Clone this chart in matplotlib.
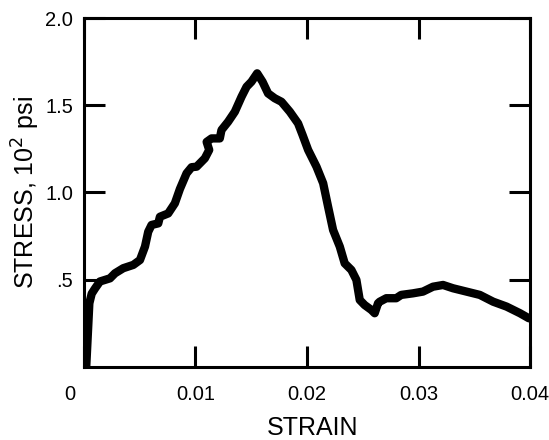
import matplotlib.pyplot as plt
from matplotlib.transforms import ScaledTranslation

plt.rcParams['font.family'] = ['Liberation Sans', 'DejaVu Sans']

# stress-strain curve
strain = [0.0002, 0.00048, 0.00069, 0.00099, 0.00143, 0.00233, 0.00278, 0.00352,
          0.00442, 0.00502, 0.00547, 0.00576, 0.00606, 0.00666, 0.00681, 0.00755,
          0.00815, 0.0086, 0.0092, 0.00965, 0.0101, 0.01084, 0.01123, 0.0110,
          0.01144, 0.01218, 0.01233, 0.01293, 0.01353, 0.01413, 0.01458, 0.01502,
          0.01553, 0.01601, 0.01651, 0.01711, 0.01771, 0.01846, 0.0192, 0.0196,
          0.0201, 0.02085, 0.02145, 0.02189, 0.02234, 0.02294, 0.02338, 0.02398,
          0.02443, 0.02473, 0.02517, 0.02577, 0.02607, 0.02637, 0.02652, 0.02711,
          0.028, 0.02845, 0.0295, 0.0304, 0.0313, 0.0322, 0.0331, 0.0343,
          0.0355, 0.0367, 0.0379, 0.0391, 0.0399]
stress = [0.0, 0.365, 0.42, 0.45, 0.49, 0.508, 0.537, 0.566,
          0.585, 0.613, 0.69, 0.775, 0.814, 0.823, 0.861, 0.88,
          0.938, 1.02, 1.11, 1.145, 1.148, 1.196, 1.244, 1.29,
          1.31, 1.31, 1.358, 1.406, 1.463, 1.549, 1.606, 1.635,
          1.683, 1.635, 1.568, 1.54, 1.52, 1.463, 1.396, 1.33,
          1.244, 1.148, 1.053, 0.919, 0.785, 0.69, 0.594, 0.556,
          0.499, 0.384, 0.355, 0.327, 0.308, 0.365, 0.374, 0.394,
          0.394, 0.413, 0.422, 0.432, 0.46, 0.47, 0.451, 0.432,
          0.413, 0.374, 0.346, 0.308, 0.279]

# faint dotted guide at .5 near the origin
guide_x = [0.0, 0.0016]
guide_y = [0.5, 0.5]

xticks = [0, 0.01, 0.02, 0.03, 0.04]
xlabels = ['0', '0.01', '0.02', '0.03', '0.04']
yticks = [0.5, 1.0, 1.5, 2.0]
ylabels = ['.5', '1.0', '1.5', '2.0']

fig = plt.figure(figsize=(5.49, 4.40), dpi=100)
ax = fig.add_axes([0.153, 0.166, 0.8124, 0.793])

ax.plot(guide_x, guide_y, color='black', lw=0.8, ls=':')
ax.plot(strain, stress, color='black', lw=6,
        solid_capstyle='round', solid_joinstyle='round')

ax.set_xlim(0, 0.04)
ax.set_ylim(0, 2.0)
ax.set_xticks(xticks)
ax.set_xticklabels(xlabels)
ax.set_yticks(yticks)
ax.set_yticklabels(ylabels)

for s in ax.spines.values():
    s.set_linewidth(2.2)
ax.tick_params(direction='in', length=15, width=2.2, top=True, right=True,
               labelsize=14.5)
ax.tick_params(axis='x', pad=13)
ax.tick_params(axis='y', pad=8)

# shift the "0" label left like the original
lbl0 = ax.get_xticklabels()[0]
lbl0.set_transform(lbl0.get_transform() + ScaledTranslation(-0.14, 0, fig.dpi_scale_trans))

ax.set_xlabel('STRAIN', fontsize=18)
ax.xaxis.set_label_coords(0.512, -0.14)
ax.set_ylabel('STRESS, 10$^2$ psi', fontsize=18)
ax.yaxis.set_label_coords(-0.095, 0.5)

fig.savefig('out.png', dpi=100)
